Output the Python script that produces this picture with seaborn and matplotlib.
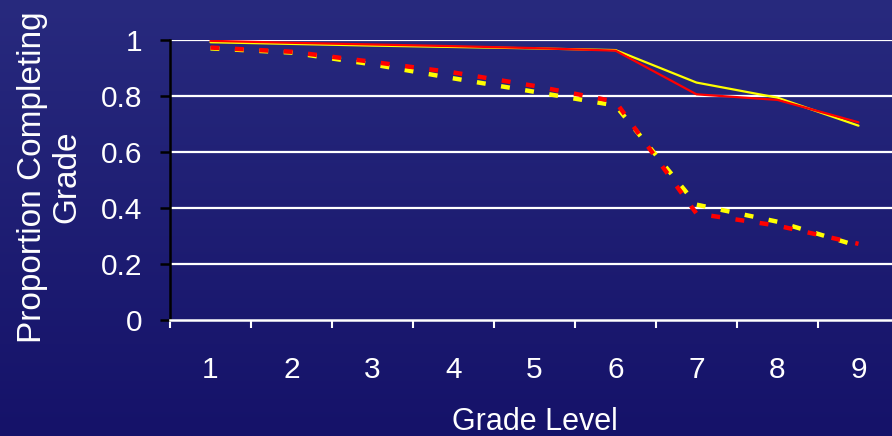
import numpy as np
import pandas as pd
import matplotlib
matplotlib.use("Agg")
import matplotlib.pyplot as plt
import seaborn as sns

# values
grades = [1, 2, 3, 4, 5, 6, 7, 8, 9]
solid_yellow = [0.992, 0.986, 0.980, 0.975, 0.970, 0.964, 0.848, 0.794, 0.694]
solid_red = [0.997, 0.990, 0.984, 0.978, 0.971, 0.962, 0.806, 0.786, 0.706]
dashed_yellow = [0.970, 0.955, 0.913, 0.863, 0.815, 0.766, 0.412, 0.351, 0.264]
dashed_red = [0.973, 0.958, 0.922, 0.884, 0.836, 0.780, 0.380, 0.337, 0.272]
y_ticks = [0, 0.2, 0.4, 0.6, 0.8, 1]
y_tick_labels = ["0", "0.2", "0.4", "0.6", "0.8", "1"]

sns.set_style("white")
plt.rcParams["font.family"] = ["Liberation Sans", "DejaVu Sans"]

fig = plt.figure(figsize=(8.92, 4.36), dpi=100)

# navy gradient background
bg = fig.add_axes([0, 0, 1, 1], zorder=-1)
top = np.array([40, 42, 126]) / 255
bottom = np.array([21, 18, 105]) / 255
t = np.linspace(0, 1, 256)[:, None, None]
grad = top * (1 - t) + bottom * t
bg.imshow(np.repeat(grad, 2, axis=1), aspect="auto", extent=[0, 1, 0, 1])
bg.axis("off")

ax = fig.add_axes([170 / 892, 116 / 436, 729 / 892, 280 / 436])
ax.set_facecolor("none")

sns.lineplot(x=grades, y=solid_yellow, color="#ffff00", lw=1.6, ax=ax, zorder=3)
sns.lineplot(x=grades, y=solid_red, color="#ff0000", lw=1.6, ax=ax, zorder=4)
sns.lineplot(x=grades, y=dashed_yellow, color="#ffff00", lw=3.2, ax=ax, zorder=5)
ax.lines[-1].set_dashes([2, 3.5])
sns.lineplot(x=grades, y=dashed_red, color="#ff0000", lw=3.2, ax=ax, zorder=6)
ax.lines[-1].set_dashes([2, 3.5])

ax.set_xlim(0.5, 9.5)
ax.set_ylim(0, 1)

for y in y_ticks[1:]:
    ax.axhline(y, color="white", lw=1.6, zorder=1)

for s in ["top", "right"]:
    ax.spines[s].set_visible(False)
ax.spines["left"].set_color("black")
ax.spines["left"].set_linewidth(1.8)
ax.spines["bottom"].set_color("white")
ax.spines["bottom"].set_linewidth(1.8)

ax.set_yticks(y_ticks)
ax.set_yticklabels(y_tick_labels)
ax.tick_params(axis="y", colors="black", labelcolor="white", direction="out",
               length=7, width=1.8, pad=13, labelsize=21.5, left=True)

ax.set_xticks(grades)
ax.set_xticklabels([str(g) for g in grades])
ax.set_xticks([g - 0.5 for g in grades] + [9.5], minor=True)
ax.tick_params(axis="x", which="major", length=0, pad=26, labelcolor="white", labelsize=21.5)
ax.tick_params(axis="x", which="minor", length=6, width=1.5, color="white",
               direction="out", bottom=True)

ax.set_xlabel("Grade Level", color="white", fontsize=22)
ax.xaxis.set_label_coords(0.5, -0.31)
ax.set_ylabel("Proportion Completing\nGrade", color="white", fontsize=24, linespacing=1.15)
ax.yaxis.set_label_coords(-0.12, 0.51)

fig.savefig("out.png", dpi=100)
